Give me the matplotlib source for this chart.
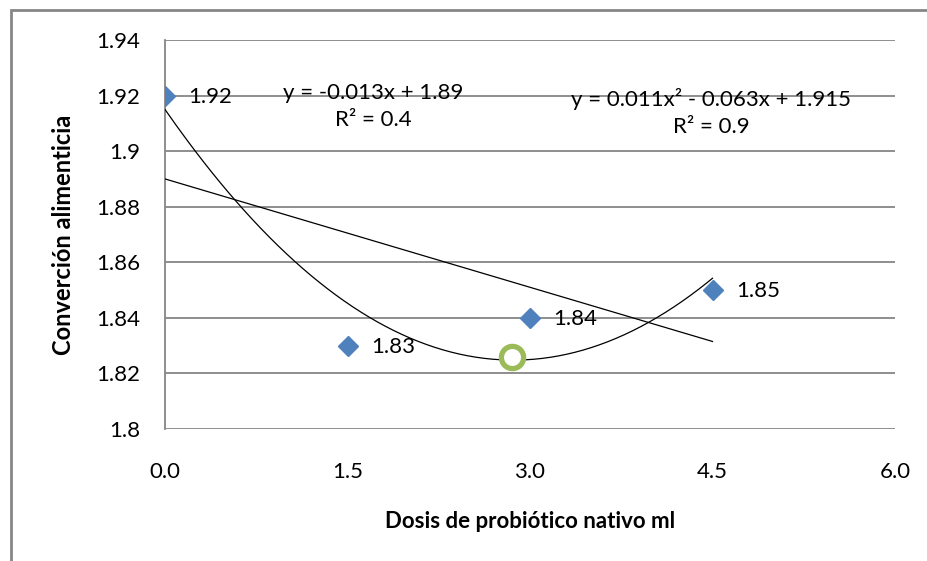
import numpy as np
import matplotlib
matplotlib.use('Agg')
import matplotlib.pyplot as plt
from matplotlib.patches import Rectangle

plt.rcParams['font.family'] = ['Lato', 'DejaVu Sans']

# Data
dosis      = [0.0, 1.5, 3.0, 4.5]
conversion = [1.92, 1.83, 1.84, 1.85]
etiquetas  = ['1.92', '1.83', '1.84', '1.85']

# Trendline coefficients as printed on the chart
lin_coef  = [-0.013, 1.89]
poly_coef = [0.011, -0.063, 1.915]
lin_text  = 'y = -0.013x + 1.89\nR² = 0.4'
poly_text = 'y = 0.011x² - 0.063x + 1.915\nR² = 0.9'

# Optimum dose marker
opt_x = 2.85
opt_y = 1.826

x_ticks = [0.0, 1.5, 3.0, 4.5, 6.0]
y_ticks = [1.8, 1.82, 1.84, 1.86, 1.88, 1.9, 1.92, 1.94]
y_ticklabels = ['1.8', '1.82', '1.84', '1.86', '1.88', '1.9', '1.92', '1.94']

gray = '#868686'

fig = plt.figure(figsize=(9.27, 5.61), dpi=100)
ax = fig.add_axes([165/927, 1 - 429/561, 730/927, 389/561])

# outer chart border
fig.add_artist(Rectangle((11/927, -0.1), 1.2, 1.1 - 10/561,
                         transform=fig.transFigure, fill=False,
                         edgecolor=gray, linewidth=2))

xt = np.linspace(dosis[0], dosis[-1], 200)
ax.plot(xt, np.polyval(poly_coef, xt), color='black', lw=0.9, zorder=3)
ax.plot(xt, np.polyval(lin_coef, xt), color='black', lw=0.9, zorder=3)

ax.plot(dosis, conversion, linestyle='none', marker='D', markersize=10,
        color='#4f81bd', zorder=4)
for xv, yv, lab in zip(dosis, conversion, etiquetas):
    ax.annotate(lab, (xv, yv), xytext=(17, -1), textcoords='offset points',
                va='center', ha='left', fontsize=16, color='black')

ax.plot([opt_x], [opt_y], linestyle='none', marker='o', markersize=16,
        markerfacecolor='white', markeredgecolor='#9bbb59',
        markeredgewidth=3.8, zorder=5)

ax.text(1.71, 1.9162, lin_text, ha='center', va='center', fontsize=16,
        linespacing=1.45)
ax.text(4.49, 1.9138, poly_text, ha='center', va='center', fontsize=16,
        linespacing=1.45)

ax.set_xlim(0, 6)
ax.set_ylim(1.8, 1.94)
ax.set_xticks(x_ticks)
ax.set_xticklabels([f'{v:.1f}' for v in x_ticks])
ax.set_yticks(y_ticks)
ax.set_yticklabels(y_ticklabels)
ax.tick_params(axis='both', length=0, labelsize=16)
ax.tick_params(axis='x', pad=24)
ax.tick_params(axis='y', pad=18)

ax.yaxis.grid(True, color=gray, linewidth=1.3)
ax.set_axisbelow(True)
for s in ['top', 'right', 'bottom']:
    ax.spines[s].set_visible(False)
ax.spines['left'].set_color(gray)
ax.spines['left'].set_linewidth(1.3)

ax.set_xlabel('Dosis de probiótico nativo ml', fontsize=16, fontweight='bold',
              labelpad=21)
ax.set_ylabel('Converción alimenticia', fontsize=17, fontweight='bold',
              labelpad=15)

fig.savefig('out.png', dpi=100)
